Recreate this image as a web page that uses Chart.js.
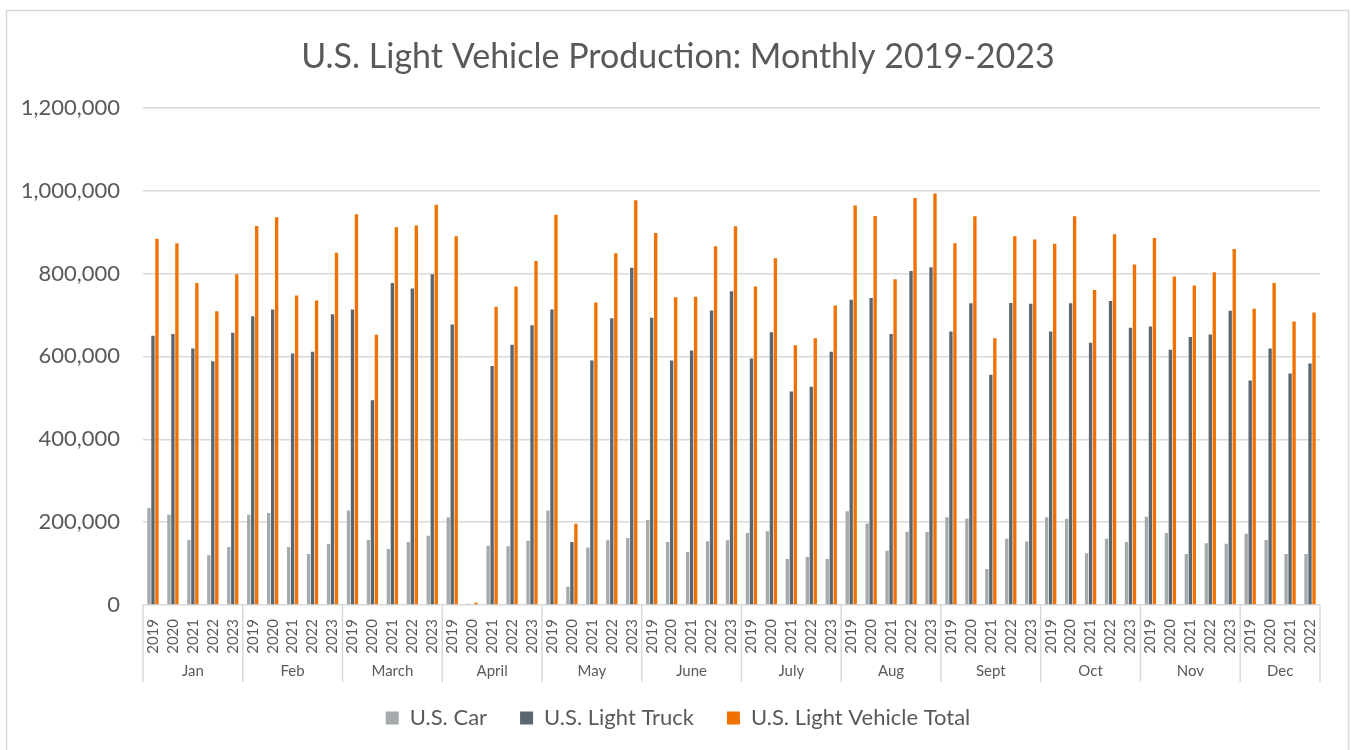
<!DOCTYPE html>
<html>
<head>
<meta charset="utf-8">
<script src="https://cdn.jsdelivr.net/npm/chart.js@4.4.1/dist/chart.umd.min.js"></script>
<style>
  html, body { margin: 0; padding: 0; background: #fff; }
  #wrap { width: 1351px; height: 750px; }
</style>
</head>
<body>
<div id="wrap"><canvas id="myChart"></canvas></div>
<script>
// month groups and years under each month (Dec only has 2019-2022)
const months = ['Jan', 'Feb', 'March', 'April', 'May', 'June', 'July', 'Aug', 'Sept', 'Oct', 'Nov', 'Dec'];
const monthYears = [5, 5, 5, 5, 5, 5, 5, 5, 5, 5, 5, 4];
const years = ['2019', '2020', '2021', '2022', '2023'];

const car = [
  234000, 218000, 157000, 120000, 140000,
  218000, 222000, 140000, 123000, 147000,
  228000, 157000, 135000, 152000, 167000,
  211000, 3000, 143000, 142000, 155000,
  228000, 44000, 139000, 156000, 162000,
  205000, 152000, 128000, 154000, 156000,
  174000, 178000, 111000, 116000, 111000,
  226000, 197000, 131000, 177000, 176000,
  212000, 208000, 87000, 160000, 153000,
  212000, 208000, 125000, 160000, 152000,
  213000, 174000, 123000, 149000, 148000,
  172000, 157000, 123000, 123000
];
const truck = [
  650000, 654000, 619000, 588000, 657000,
  697000, 713000, 607000, 611000, 702000,
  713000, 494000, 777000, 764000, 798000,
  677000, 2000, 577000, 628000, 675000,
  713000, 152000, 590000, 692000, 814000,
  693000, 590000, 614000, 711000, 757000,
  595000, 658000, 515000, 527000, 611000,
  737000, 741000, 654000, 806000, 815000,
  660000, 728000, 556000, 729000, 727000,
  660000, 728000, 633000, 734000, 669000,
  672000, 616000, 647000, 653000, 710000,
  542000, 619000, 559000, 583000
];
const total = [
  884000, 873000, 777000, 709000, 798000,
  915000, 936000, 747000, 735000, 850000,
  943000, 652000, 912000, 916000, 966000,
  890000, 5500, 720000, 769000, 830000,
  942000, 196000, 730000, 849000, 977000,
  898000, 743000, 744000, 866000, 914000,
  769000, 837000, 627000, 644000, 723000,
  964000, 939000, 786000, 982000, 993000,
  873000, 938000, 644000, 890000, 882000,
  872000, 938000, 760000, 895000, 822000,
  886000, 793000, 771000, 803000, 859000,
  715000, 777000, 684000, 706000
];

const labels = [];
monthYears.forEach(n => { for (let i = 0; i < n; i++) labels.push(years[i]); });

const textColor = '#595959';
const gridColor = '#d9d9d9';
const fontName = 'Lato';

// month row, group separators and outer frame
const groupAxis = {
  id: 'groupAxis',
  afterLayout(chart) {
    // y labels are wider than the axis box; let them spill left without being clipped
    chart.scales.y.left = 0;
  },
  afterDraw(chart) {
    const c = chart.ctx;
    const x = chart.scales.x;
    const area = chart.chartArea;
    const step = x.getPixelForValue(1) - x.getPixelForValue(0);
    c.save();
    c.strokeStyle = gridColor;
    c.lineWidth = 1.5;
    c.fillStyle = textColor;
    c.font = '15px ' + fontName;
    c.textAlign = 'center';
    c.textBaseline = 'middle';
    let start = 0;
    months.forEach((m, k) => {
      const end = start + monthYears[k] - 1;
      const left = x.getPixelForValue(start) - step / 2;
      c.beginPath();
      c.moveTo(left, area.bottom);
      c.lineTo(left, area.bottom + 77);
      c.stroke();
      const mid = (x.getPixelForValue(start) + x.getPixelForValue(end)) / 2;
      c.fillText(m, mid, area.bottom + 66);
      start = end + 1;
    });
    const right = x.getPixelForValue(start - 1) + step / 2;
    c.beginPath();
    c.moveTo(right, area.bottom);
    c.lineTo(right, area.bottom + 77);
    c.stroke();
    // frame
    c.beginPath();
    c.moveTo(6.5, 760);
    c.lineTo(6.5, 10.5);
    c.lineTo(1348.5, 10.5);
    c.lineTo(1348.5, 760);
    c.stroke();
    c.restore();
  }
};

new Chart(document.getElementById('myChart'), {
  type: 'bar',
  data: {
    labels: labels,
    datasets: [{
      label: 'U.S. Car',
      data: car,
      backgroundColor: '#a5aaad',
      categoryPercentage: 0.6,
      barPercentage: 0.84
    }, {
      label: 'U.S. Light Truck',
      data: truck,
      backgroundColor: '#5b6770',
      categoryPercentage: 0.6,
      barPercentage: 0.84
    }, {
      label: 'U.S. Light Vehicle Total',
      data: total,
      backgroundColor: '#f07100',
      categoryPercentage: 0.6,
      barPercentage: 0.84
    }]
  },
  options: {
    responsive: true,
    maintainAspectRatio: false,
    animation: false,
    layout: { padding: { top: 20, left: 36, right: 31, bottom: 11 } },
    plugins: {
      title: {
        display: true,
        text: 'U.S. Light Vehicle Production: Monthly 2019-2023',
        color: textColor,
        font: { family: fontName, size: 34, weight: 'normal' },
        padding: { top: 17, bottom: 30 }
      },
      legend: {
        position: 'bottom',
        labels: {
          color: textColor,
          font: { family: fontName, size: 22 },
          boxWidth: 13,
          boxHeight: 13,
          padding: 33
        }
      },
      tooltip: { enabled: false }
    },
    scales: {
      x: {
        grid: { display: false },
        border: { display: false },
        ticks: {
          color: textColor,
          font: { family: fontName, size: 15 },
          autoSkip: false,
          minRotation: 90,
          maxRotation: 90,
          padding: 6
        },
        // month row is drawn by the plugin and may run into the legend's top padding
        afterFit(scale) { scale.height = 69; }
      },
      y: {
        min: 0,
        max: 1200000,
        grid: { color: gridColor, lineWidth: 1.5, drawTicks: false },
        border: { display: false },
        ticks: {
          stepSize: 200000,
          color: textColor,
          font: { family: fontName, size: 22 },
          padding: 23,
          callback: v => v.toLocaleString('en-US')
        },
        afterFit(scale) { scale.width = 107; }
      }
    }
  },
  plugins: [groupAxis]
});
</script>
</body>
</html>
